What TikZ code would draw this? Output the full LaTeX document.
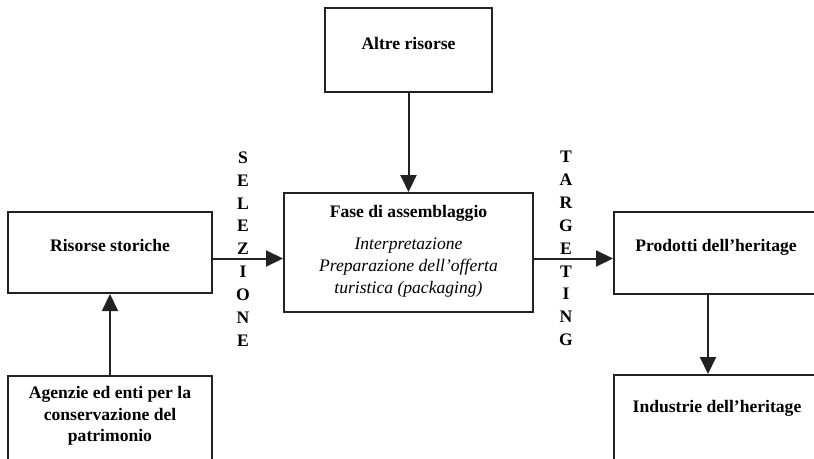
\documentclass[tikz,border=0pt]{standalone}
\usepackage{fontspec}
\setmainfont{Liberation Serif}
\usetikzlibrary{arrows.meta}
\definecolor{ln}{HTML}{222222}
\tikzset{
  box/.style={draw=ln, line width=2pt, rectangle, inner sep=0pt},
  lbl/.style={font=\bfseries\fontsize{17.6}{21.5}\selectfont, align=center, inner sep=0pt},
  ital/.style={font=\itshape\fontsize{17.6}{22}\selectfont, align=center, inner sep=0pt},
  vert/.style={font=\bfseries\fontsize{17.6}{22.9}\selectfont, align=center, inner sep=0pt},
  arr/.style={draw=ln, line width=2pt, -{Triangle[length=17pt,width=16pt]}}
}
\begin{document}
\begin{tikzpicture}[x=1pt,y=-1pt]
\useasboundingbox (0,0) rectangle (814,458);
\clip (0,0) rectangle (814,458);
\fill[white] (0,0) rectangle (814,458);
% boxes
\node[box, minimum width=167pt, minimum height=84pt] (altre) at (408.5,50) {};
\node[box, minimum width=249pt, minimum height=119pt] (fase) at (408.5,252.5) {};
\node[box, minimum width=204pt, minimum height=81pt] (rs) at (110,252.5) {};
\node[box, minimum width=204pt, minimum height=94pt] (ag) at (110,423) {};
\node[box, minimum width=204pt, minimum height=82pt] (pr) at (716,253) {};
\node[box, minimum width=204pt, minimum height=94pt] (ind) at (716,422) {};
% texts
\node[lbl] (taltre) at (408.5,43) {Altre risorse};
\node[lbl] (tfase) at (408.5,213) {Fase di assemblaggio};
\node[ital] (tfase2) at (408.5,268) {Interpretazione\\Preparazione dell’offerta\\turistica (packaging)};
\node[lbl] (trs) at (110,245) {Risorse storiche};
\node[lbl] (tag) at (110,416) {Agenzie ed enti per la\\conservazione del\\patrimonio};
\node[lbl] (tpr) at (716,247) {Prodotti dell’heritage};
\node[lbl] (tind) at (717,408) {Industrie dell’heritage};
\node[vert] (sel) at (243,249) {S\\E\\L\\E\\Z\\I\\O\\N\\E};
\node[vert] (tgt) at (566,248.5) {T\\A\\R\\G\\E\\T\\I\\N\\G};
% connector heights
\coordinate (ya) at (0,258.5);
% connectors
\draw[arr] (altre.south) -- (fase.north);
\draw[arr] (rs.east |- ya) -- (fase.west |- ya);
\draw[arr] (fase.east |- ya) -- (pr.west |- ya);
\draw[arr] (ag.north) -- (rs.south);
\draw[arr] (pr.south -| 708,0) -- (ind.north -| 708,0);
\end{tikzpicture}
\end{document}
